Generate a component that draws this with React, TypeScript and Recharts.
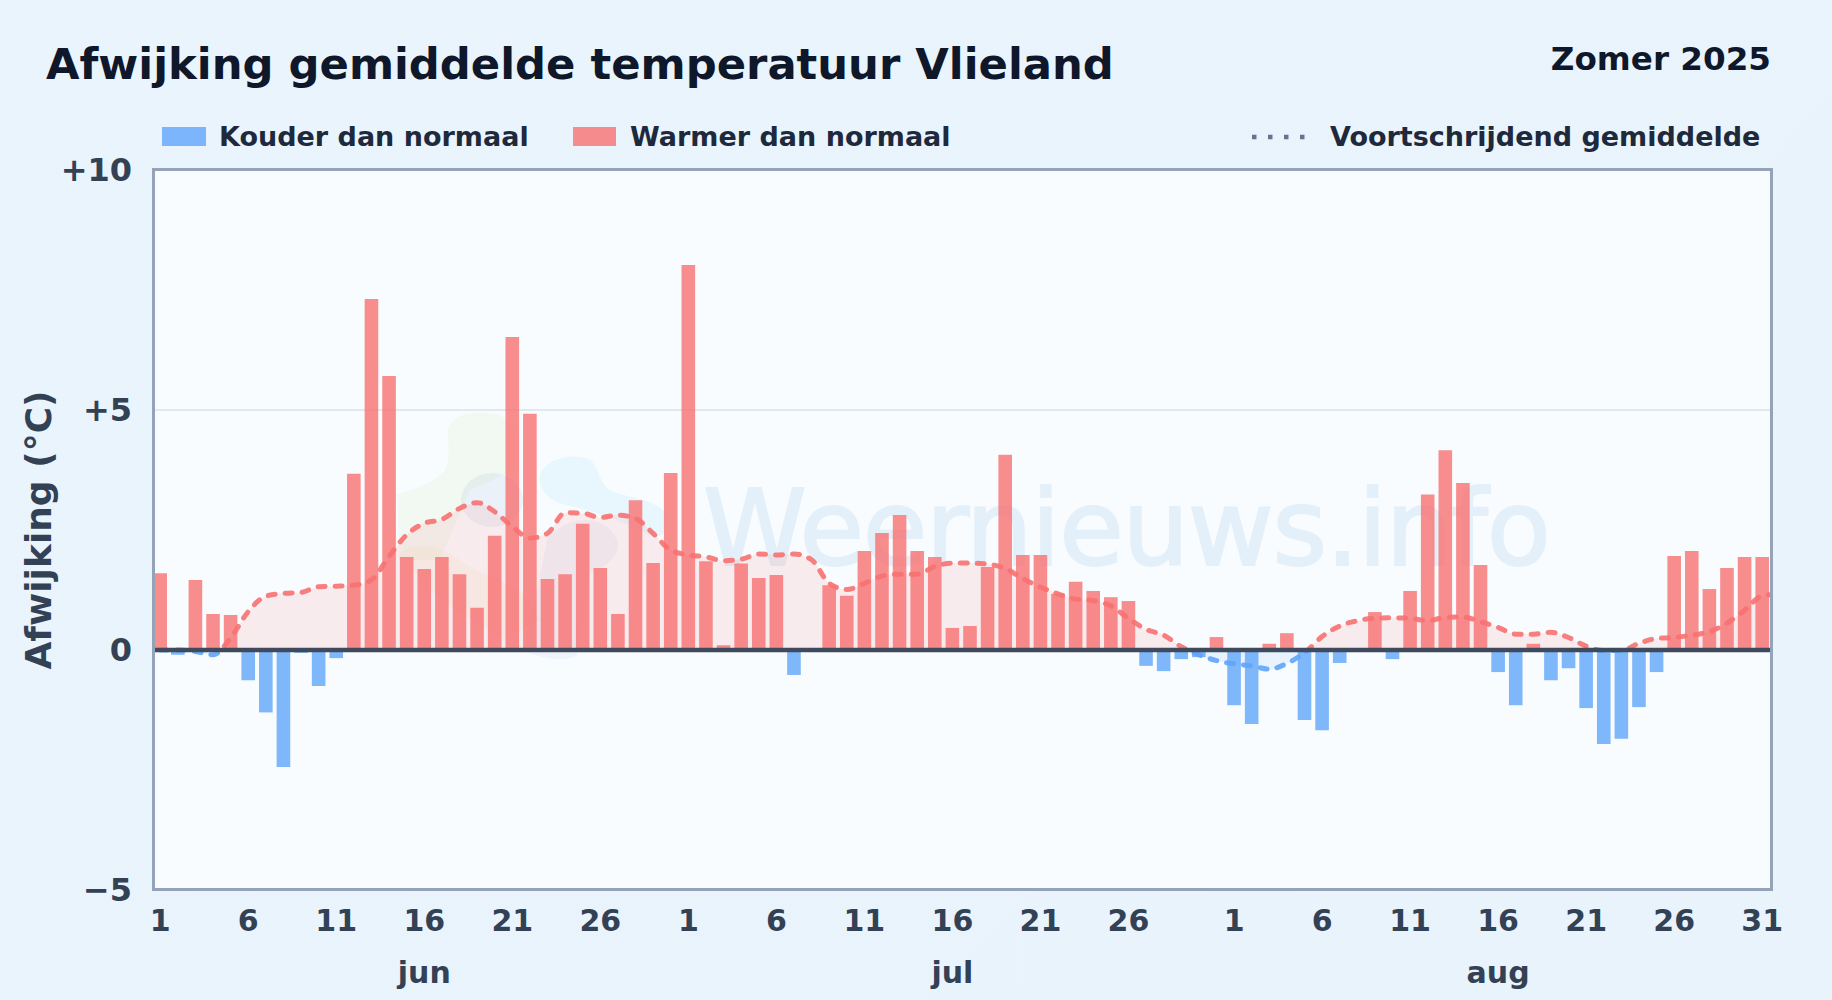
import React from 'react';
import { ComposedChart, Bar, Area, Line, XAxis, YAxis, CartesianGrid, ReferenceLine } from 'recharts';

// deviation per day, 1 jun - 31 aug
const juneValues = [1.6, -0.1, 1.46, 0.75, 0.73, -0.63, -1.3, -2.44, -0.06, -0.75, -0.17, 3.67, 7.31, 5.71, 1.94, 1.69, 1.94, 1.58, 0.88, 2.38, 6.52, 4.92, 1.48, 1.58, 2.63, 1.71, 0.75, 3.12, 1.81, 3.69];
const julyValues = [8.02, 1.85, 0.1, 1.8, 1.5, 1.56, -0.52, 0, 1.35, 1.13, 2.06, 2.44, 2.81, 2.06, 1.94, 0.46, 0.5, 1.73, 4.07, 1.98, 1.98, 1.17, 1.42, 1.23, 1.1, 1.02, -0.33, -0.44, -0.19, -0.15, 0.27];
const augustValues = [-1.15, -1.54, 0.13, 0.35, -1.46, -1.67, -0.27, 0, 0.79, -0.19, 1.23, 3.24, 4.16, 3.48, 1.77, -0.46, -1.15, 0.13, -0.63, -0.38, -1.21, -1.96, -1.85, -1.19, -0.46, 1.96, 2.06, 1.27, 1.71, 1.94, 1.94];

const trendValues = [
  0, 0, -0.03, -0.1, 0.25, 0.8, 1.12, 1.18, 1.2, 1.32, 1.33, 1.35, 1.46, 1.95, 2.4, 2.64, 2.72, 2.95, 3.07, 2.88, 2.57, 2.33, 2.43, 2.86, 2.85, 2.76, 2.81, 2.74, 2.43, 2.08,
  1.98, 1.94, 1.86, 1.89, 2.0, 1.98, 2.0, 1.88, 1.39, 1.26, 1.39, 1.54, 1.58, 1.58, 1.74, 1.81, 1.81, 1.79, 1.7, 1.49, 1.31, 1.17, 1.06, 1.03, 0.92, 0.66, 0.43, 0.31, 0.07, -0.1, -0.22,
  -0.29, -0.33, -0.4, -0.28, -0.06, 0.28, 0.5, 0.61, 0.66, 0.67, 0.66, 0.61, 0.68, 0.69, 0.59, 0.47, 0.33, 0.33, 0.37, 0.26, 0.08, -0.01, -0.01, 0.14, 0.24, 0.26, 0.31, 0.38, 0.56, 0.83, 1.13,
];
// the trend runs on to the edge of the plot, the clip cuts it there
const trendEnd = { x: 92, trend: 1.17 };

const dayTicks = [0, 5, 10, 15, 20, 25, 30, 35, 40, 45, 50, 55, 61, 66, 71, 76, 81, 86, 91];
const dayLabels = ['1', '6', '11', '16', '21', '26', '1', '6', '11', '16', '21', '26', '1', '6', '11', '16', '21', '26', '31'];
const monthTicks = [15, 45, 76];
const monthLabels = ['jun', 'jul', 'aug'];
const yTicks = [-5, 0, 5, 10];
const yLabels = ['−5', '0', '+5', '+10'];

const values = [...juneValues, ...julyValues, ...augustValues];
const rows: any[] = values.map((v, i) => ({
  x: i,
  warm: v > 0 ? v : 0,
  cold: v < 0 ? v : 0,
  trend: trendValues[i],
}));
rows.push(trendEnd);

const FONT = '"DejaVu Sans", sans-serif';
const RED = '#f87171';
const BLUE = '#60a5fa';

const abs = (left: number, top: number, extra: React.CSSProperties = {}): React.CSSProperties => ({
  position: 'absolute',
  left,
  top,
  fontFamily: FONT,
  fontWeight: 700,
  whiteSpace: 'nowrap',
  ...extra,
});

function Watermark() {
  return (
    <svg width={1832} height={1000} style={{ position: 'absolute', left: 0, top: 0 }}>
      <g>
        <path d="M448 432 C448 416 470 410 490 413 C506 415 515 425 515 440 L515 470 L470 490 L440 560 L400 560 L397 495 C415 488 432 485 445 470 C450 460 448 445 448 432 Z" fill="#84cc16" opacity={0.05} />
        <ellipse cx={492} cy={500} rx={31} ry={27} fill="#3b6aa0" opacity={0.07} />
        <path d="M540 475 C545 458 575 452 590 460 C600 468 598 482 610 490 C625 498 650 497 665 512 C675 525 665 540 650 535 C620 520 590 510 565 505 C548 500 538 490 540 475 Z" fill="#38bdf8" opacity={0.08} />
        <path d="M398 555 C410 540 440 545 460 560 C480 575 510 580 530 600 L540 620 L505 640 L440 600 Z" fill="#f59e0b" opacity={0.05} />
        <path d="M547 540 C565 515 605 512 617 540 C622 555 605 568 590 573 L577 655 C570 662 540 660 523 650 L535 600 Z" fill="#3b6aa0" opacity={0.05} />
      </g>
      <text x={703} y={565} fontFamily={FONT} fontSize={105} textLength={848} fill="#6ba6d8" stroke="#6ba6d8" strokeWidth={2} opacity={0.14}>
        Weernieuws.info
      </text>
    </svg>
  );
}

export default function App() {
  return (
    <div style={{ position: 'absolute', left: 0, top: 0, width: 1832, height: 1000, overflow: 'hidden', background: 'linear-gradient(135deg, #e9f4fd 0%, #e8f3fc 100%)' }}>
      <div style={abs(46, 38, { fontSize: 43.3, color: '#0f172a', lineHeight: '52px' })}>Afwijking gemiddelde temperatuur Vlieland</div>
      <div style={abs(0, 41, { right: 61, left: 'auto', fontSize: 32.6, color: '#0f172a', lineHeight: '36px' })}>Zomer 2025</div>

      <div style={abs(162, 127, { width: 44, height: 19, background: BLUE, opacity: 0.8 })} />
      <div style={abs(219, 122, { fontSize: 27, color: '#1e293b', lineHeight: '30px' })}>Kouder dan normaal</div>
      <div style={abs(573, 127, { width: 43, height: 19, background: RED, opacity: 0.8 })} />
      <div style={abs(630, 122, { fontSize: 27, color: '#1e293b', lineHeight: '30px' })}>Warmer dan normaal</div>
      <svg width={70} height={20} style={{ position: 'absolute', left: 1248, top: 127 }}>
        <line x1={4} x2={64} y1={10} y2={10} stroke="#64748b" strokeWidth={4.5} strokeDasharray="4.5 11.5" />
      </svg>
      <div style={abs(1330, 122, { fontSize: 27, color: '#1e293b', lineHeight: '30px' })}>Voortschrijdend gemiddelde</div>

      <div style={{ position: 'absolute', left: 153, top: 170, width: 1618, height: 720, background: '#f8fcff' }} />
      <Watermark />

      <div style={{ position: 'absolute', left: 0, top: 0 }}>
        <ComposedChart width={1832} height={1000} data={rows} margin={{ top: 170, right: 61, bottom: 0, left: 0 }}>
          <defs>
            <linearGradient id="trendFill" gradientUnits="userSpaceOnUse" x1="0" y1="170" x2="0" y2="890">
              <stop offset="66.67%" stopColor={RED} stopOpacity={0.2} />
              <stop offset="66.67%" stopColor={BLUE} stopOpacity={0.18} />
            </linearGradient>
            <linearGradient id="trendStroke" gradientUnits="userSpaceOnUse" x1="0" y1="170" x2="0" y2="890">
              <stop offset="66.67%" stopColor={RED} />
              <stop offset="66.67%" stopColor={BLUE} />
            </linearGradient>
          </defs>
          <CartesianGrid vertical={false} stroke="#e2e8f0" strokeWidth={2} />
          <XAxis
            xAxisId="days"
            dataKey="x"
            type="number"
            domain={[-0.409, 91.5]}
            allowDataOverflow
            ticks={dayTicks}
            interval={0}
            height={46}
            axisLine={false}
            tickLine={false}
            tickMargin={14}
            tick={{ fill: '#334155', fontSize: 30, fontWeight: 700, fontFamily: FONT }}
            tickFormatter={(v: number) => dayLabels[dayTicks.indexOf(v)]}
          />
          <XAxis
            xAxisId="months"
            dataKey="x"
            type="number"
            domain={[-0.409, 91.5]}
            allowDataOverflow
            ticks={monthTicks}
            interval={0}
            height={64}
            axisLine={false}
            tickLine={false}
            tickMargin={20}
            tick={{ fill: '#334155', fontSize: 30, fontWeight: 700, fontFamily: FONT }}
            tickFormatter={(v: number) => monthLabels[monthTicks.indexOf(v)]}
          />
          <YAxis
            width={153}
            type="number"
            domain={[-5, 10]}
            ticks={yTicks}
            interval={0}
            axisLine={false}
            tickLine={false}
            tickMargin={15}
            tick={{ fill: '#334155', fontSize: 32, fontWeight: 700, fontFamily: FONT }}
            tickFormatter={(v: number) => yLabels[yTicks.indexOf(v)]}
            label={{ value: 'Afwijking (°C)', angle: -90, position: 'insideLeft', offset: 0, dx: 38, textAnchor: 'middle', fill: '#334155', fontSize: 36, fontWeight: 700, fontFamily: FONT }}
          />
          <Area xAxisId="days" dataKey="trend" type="monotone" baseValue={0} stroke="none" fill="url(#trendFill)" isAnimationActive={false} />
          <Bar xAxisId="days" dataKey="warm" stackId="dev" barSize={13.6} fill={RED} fillOpacity={0.8} isAnimationActive={false} />
          <Bar xAxisId="days" dataKey="cold" stackId="dev" barSize={13.6} fill={BLUE} fillOpacity={0.8} isAnimationActive={false} />
          <Line xAxisId="days" dataKey="trend" type="monotone" stroke="url(#trendStroke)" strokeWidth={5} strokeDasharray="7 10" strokeLinecap="round" strokeOpacity={0.9} dot={false} isAnimationActive={false} />
          <ReferenceLine xAxisId="days" y={0} stroke="#3f4a5c" strokeWidth={4.5} />
        </ComposedChart>
      </div>

      <div style={{ position: 'absolute', left: 151.5, top: 168, width: 1621, height: 723, border: '3px solid #94a3b8', boxSizing: 'border-box', pointerEvents: 'none' }} />
    </div>
  );
}
